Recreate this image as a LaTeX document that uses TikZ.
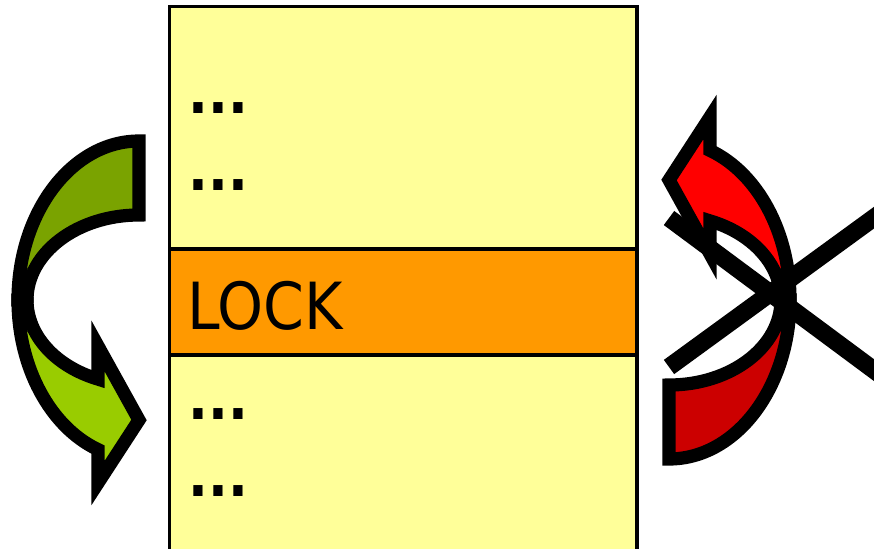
\documentclass[tikz,border=0pt]{standalone}
\usepackage{fontspec}
\setmainfont{DejaVu Sans Condensed}
\usepackage{xcolor}
\usepackage{tikz}

\definecolor{paleyellow}{HTML}{FFFF99}
\definecolor{lockorange}{HTML}{FF9900}
\definecolor{darkgreen}{HTML}{7AA300}
\definecolor{lightgreen}{HTML}{99CC00}
\definecolor{darkred}{HTML}{CC0000}
\definecolor{brightred}{HTML}{FF0000}

% curved arrow around its centre: #1 tail colour, #2 head colour
\newcommand{\curvedarrow}[2]{%
  % tail part
  \draw[arrowline, fill=#1] (0,-159) arc[start angle=270, end angle=180, x radius=121, y radius=159]
    -- (-112,0) arc[start angle=180, end angle=270, x radius=112, y radius=85] -- cycle;
  % head part
  \draw[arrowline, fill=#2] (-121,0) arc[start angle=180, end angle=109.8, x radius=121, y radius=159]
    -- (-41,183) -- (0,120) -- (-41,46) -- (-41,79.1)
    arc[start angle=111.47, end angle=180, x radius=112, y radius=85] -- cycle;
}

\begin{document}
\begin{tikzpicture}[x=0.02cm, y=-0.02cm,
    boxline/.style={draw=black, line width=1.9pt},
    arrowline/.style={draw=black, line width=7.5pt, line join=miter, miter limit=20},
    crossline/.style={draw=black, line width=10pt},
    entry/.style={anchor=base west, inner sep=0pt, font=\fontsize{37}{40}\selectfont},
    dots/.style={anchor=base west, inner sep=0pt, font=\bfseries\fontsize{33}{40}\selectfont}]
    \useasboundingbox (0,0) rectangle (874,548);
    \clip (0,0) rectangle (874,548);

    % Memory block
    \draw[boxline, fill=paleyellow] (169.5,6.5) rectangle (637,570);
    \draw[boxline, fill=lockorange] (169.5,249) rectangle (637,355);

    % Entries
    \node[dots] (dotsa) at (188,113) {...};
    \node[dots] (dotsb) at (188,190) {...};
    \node[entry] (lock) at (187,329) {LOCK};
    \node[dots] (dotsc) at (188,419) {...};
    \node[dots] (dotsd) at (188,496) {...};

    % Green arrow
    \begin{scope}[shift={(139,300)}]
        \curvedarrow{darkgreen}{lightgreen}
    \end{scope}

    % Red arrow
    \begin{scope}[shift={(669,300)}, rotate=180]
        \curvedarrow{darkred}{brightred}
    \end{scope}

    % Cross
    \draw[crossline] (669,218) -- (890,382);
    \draw[crossline] (669,367) -- (890,206);
\end{tikzpicture}
\end{document}
